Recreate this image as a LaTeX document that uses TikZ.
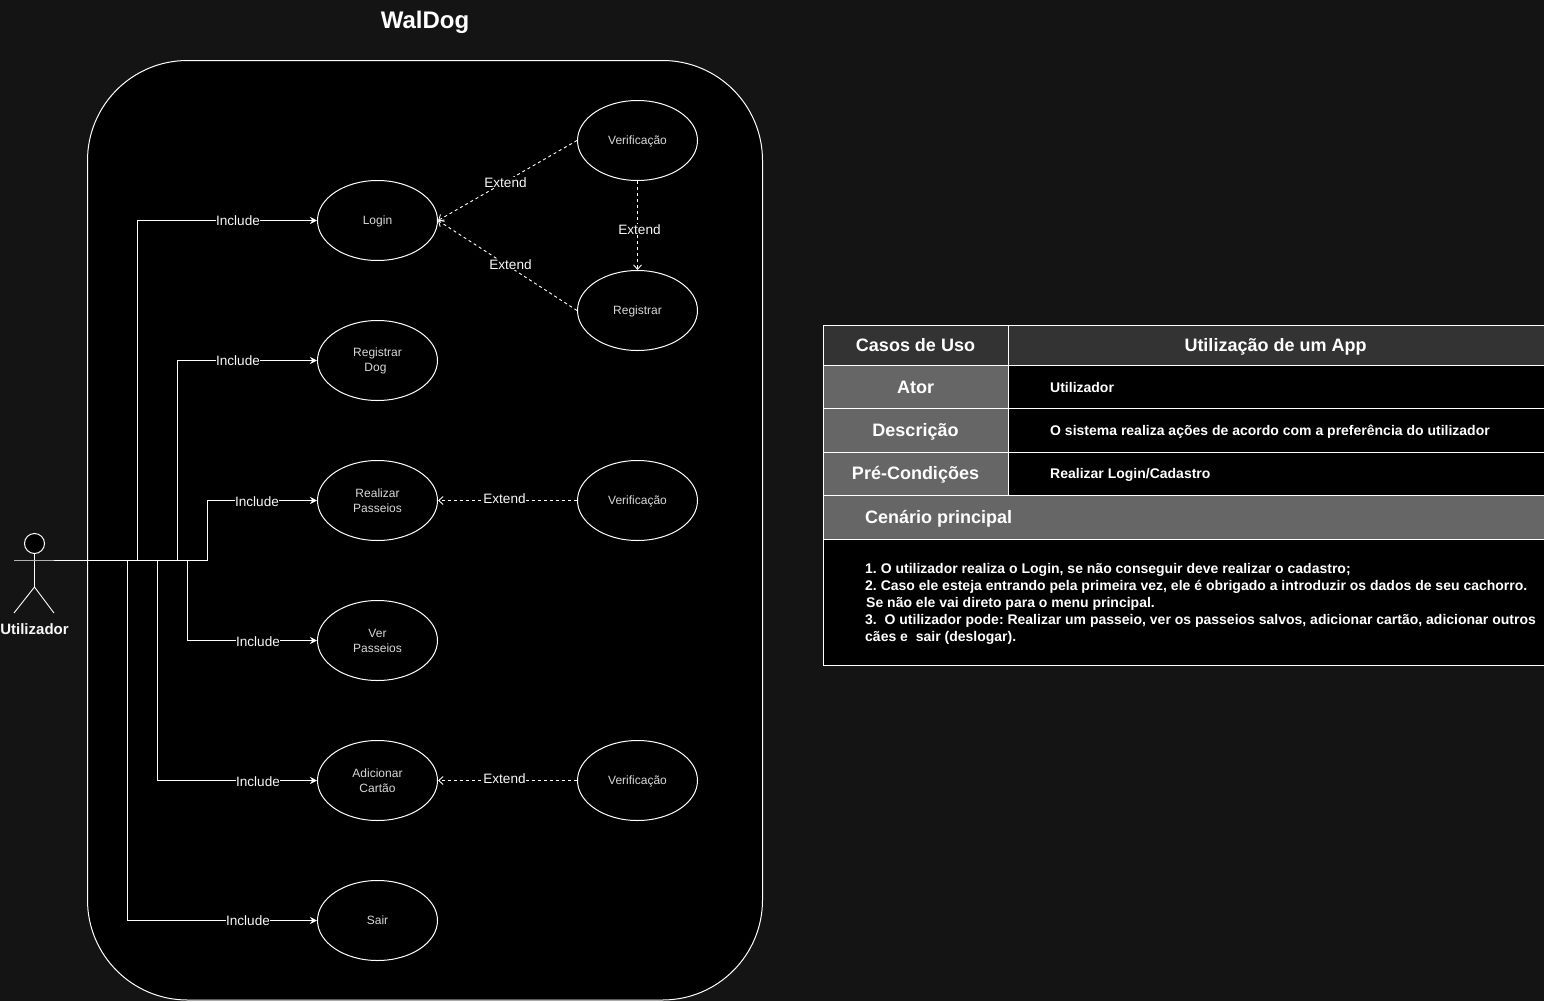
\documentclass[tikz,border=0pt]{standalone}
\usepackage{fontspec}
\setmainfont{Liberation Sans}
\usetikzlibrary{arrows.meta,shapes.geometric}
\definecolor{pageBg}{HTML}{141414}
\definecolor{headDark}{HTML}{333333}
\definecolor{headGrey}{HTML}{666666}
\definecolor{useText}{HTML}{D8D8D8}
\definecolor{linkText}{HTML}{F8F8F8}
\newcommand{\actorY}{560.5}
\newcommand{\colA}{823.5}
\newcommand{\colB}{1008}
\newcommand{\colC}{1544}
\newcommand{\textColB}{1050}
\newcommand{\lowText}[1]{\raisebox{-1pt}[9pt][3pt]{#1}}
\tikzset{
  useCase/.style={draw=white,line width=1pt,fill=black,ellipse,minimum width=120pt,minimum height=80pt,inner sep=0pt,align=center,text=useText,font=\fontsize{12}{15}\selectfont},
  includeLink/.style={draw=white,line width=1pt,-{Stealth[length=7pt,width=7pt]}},
  extendLink/.style={draw=white,line width=0.9pt,dash pattern=on 3pt off 3pt,-{Straight Barb[length=4.5pt,width=8pt]}},
  linkLabel/.style={fill=black,inner xsep=0.5pt,inner ysep=1pt,text=linkText,font=\fontsize{13.6}{15}\selectfont},
  headCell/.style={font=\bfseries\fontsize{18}{20}\selectfont,text=white,inner sep=0pt},
  bodyCell/.style={font=\bfseries\fontsize{14}{17}\selectfont,text=white,inner sep=0pt,anchor=west},
  tableLine/.style={draw=white,line width=1pt},
}
\begin{document}
\frenchspacing
\begin{tikzpicture}[x=1pt,y=-1pt]
\fill[pageBg] (0,0) rectangle (1544,1001);
\useasboundingbox (0,0) rectangle (1544,1001);
\node[font=\bfseries\fontsize{24}{28}\selectfont,text=white,inner sep=0pt] (titleWalDog) at (425,22) {WalDog};
\draw[white,fill=black,line width=1pt,rounded corners=100pt] (87.5,60.5) rectangle (762.5,1000);

% use cases
\node[useCase] (nodeLogin) at (377.5,220.5) {\lowText{Login}};
\node[useCase] (nodeDog) at (377.5,360.5) {Registrar\\Dog\hspace*{4pt}};
\node[useCase] (nodePasseio) at (377.5,500.5) {Realizar\\Passeios};
\node[useCase] (nodeVer) at (377.5,640.5) {Ver\\Passeios};
\node[useCase] (nodeCartao) at (377.5,780.5) {Adicionar\\Cartão};
\node[useCase] (nodeSair) at (377.5,920.5) {Sair};
\node[useCase] (nodeVerifTop) at (637.5,140.5) {\lowText{Verificação}};
\node[useCase] (nodeRegistrar) at (637.5,310.5) {\lowText{Registrar}};
\node[useCase] (nodeVerifMid) at (637.5,500.5) {\lowText{Verificação}};
\node[useCase] (nodeVerifLow) at (637.5,780.5) {\lowText{Verificação}};

% actor
\node[draw=white,fill=black,circle,minimum size=20pt,inner sep=0pt,line width=1pt] (actorHead) at (34.5,543.5) {};
\coordinate (actorHip) at (34.5,587);
\coordinate (actorHandL) at (14,560.5);
\coordinate (actorHand) at (54,560.5);
\coordinate (actorFootL) at (14,613);
\coordinate (actorFootR) at (54,613);
\draw[white,line width=0.9pt] (actorHead) -- (actorHip) -- (actorFootL) (actorHip) -- (actorFootR);
\draw[white!70!black,line width=1pt] (actorHandL) -- (actorHand);
\node[font=\bfseries\fontsize{15}{17}\selectfont,text=linkText,inner sep=0pt] (actorName) at (34.5,629) {Utilizador};

% include links
\draw[includeLink] (actorHand) -- (137.5,\actorY) |- (nodeLogin.west);
\draw[includeLink] (actorHand) -- (177.5,\actorY) |- (nodeDog.west);
\draw[includeLink] (actorHand) -- (207.5,\actorY) |- (nodePasseio.west);
\draw[includeLink] (actorHand) -- (187.5,\actorY) |- (nodeVer.west);
\draw[includeLink] (actorHand) -- (157.5,\actorY) |- (nodeCartao.west);
\draw[includeLink] (actorHand) -- (127.5,\actorY) |- (nodeSair.west);
\node[linkLabel] (includeLogin) at (238,220.5) {Include};
\node[linkLabel] (includeDog) at (238,360.5) {Include};
\node[linkLabel] (includePasseio) at (257,501.5) {Include};
\node[linkLabel] (includeVer) at (258,641.5) {Include};
\node[linkLabel] (includeCartao) at (258,781.5) {Include};
\node[linkLabel] (includeSair) at (248,920.5) {Include};

% extend links
\draw[extendLink] (nodeVerifTop.west) -- (nodeLogin.east);
\draw[extendLink] (nodeRegistrar.west) -- (nodeLogin.east);
\draw[extendLink] (nodeVerifTop.south) -- (nodeRegistrar.north);
\draw[extendLink] (nodeVerifMid.west) -- (nodePasseio.east);
\draw[extendLink] (nodeVerifLow.west) -- (nodeCartao.east);
\node[linkLabel] (extendTop) at (505.5,182.5) {Extend};
\node[linkLabel] (extendReg) at (510.5,264.5) {Extend};
\node[linkLabel] (extendDown) at (639.5,229.5) {Extend};
\node[linkLabel] (extendMid) at (504.5,498.5) {Extend};
\node[linkLabel] (extendLow) at (504.5,778.5) {Extend};

% table
\fill[headDark] (\colA,325.5) rectangle (\colC,365.5);
\fill[headGrey] (\colA,365.5) rectangle (\colB,495.5);
\fill[black] (\colB,365.5) rectangle (\colC,495.5);
\fill[headGrey] (\colA,495.5) rectangle (\colC,539);
\fill[black] (\colA,539) rectangle (\colC,665);
\draw[tableLine] (\colC,325.5) -- (\colA,325.5) -- (\colA,665) -- (\colC,665);
\draw[tableLine] (\colA,365.5) -- (\colC,365.5);
\draw[tableLine] (\colA,408.5) -- (\colC,408.5);
\draw[tableLine] (\colA,452) -- (\colC,452);
\draw[tableLine] (\colA,495.5) -- (\colC,495.5);
\draw[tableLine] (\colA,539) -- (\colC,539);
\draw[tableLine] (\colB,325.5) -- (\colB,495.5);
\node[headCell] (cellCasos) at (915.5,345) {Casos de Uso};
\node[headCell] (cellApp) at (1275.5,346.5) {Utilização de um App};
\node[headCell] (cellAtor) at (915.5,387.5) {Ator};
\node[headCell] (cellDescricao) at (915.5,431.5) {Descrição};
\node[headCell] (cellPre) at (915.5,474.5) {Pré-Condições};
\node[headCell,anchor=west] (cellCenario) at (865,519) {Cenário principal};
\node[bodyCell] (textAtor) at (\textColB,387.5) {Utilizador};
\node[bodyCell] (textDescricao) at (\textColB,431.5) {O sistema realiza ações de acordo com a preferência do utilizador};
\node[bodyCell] (textPre) at (\textColB,474.5) {Realizar Login/Cadastro};
\node[bodyCell,anchor=north west,align=left] (textCenario) at (865,563.5) {1. O utilizador realiza o Login, se não conseguir deve realizar o cadastro;\\
2. Caso ele esteja entrando pela primeira vez, ele é obrigado a introduzir os dados de seu cachorro.\\
\hspace*{1pt}Se não ele vai direto para o menu principal.\\
3.\ \ O utilizador pode: Realizar um passeio, ver os passeios salvos, adicionar cartão, adicionar outros\\
cães e\ \ sair (deslogar).};
\end{tikzpicture}
\end{document}
